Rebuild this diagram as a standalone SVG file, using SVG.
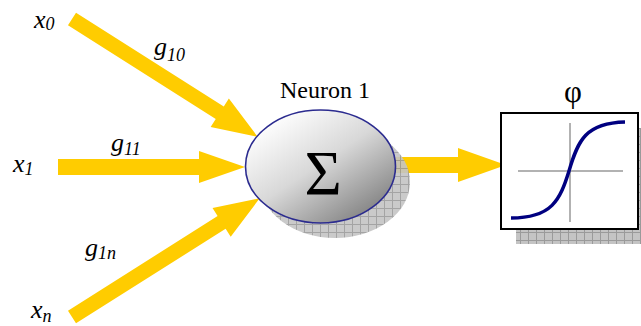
<svg xmlns="http://www.w3.org/2000/svg" width="641" height="326" viewBox="0 0 641 326">
<defs>
<pattern id="chk" width="8" height="8" patternUnits="userSpaceOnUse">
<rect width="8" height="8" fill="#c4c4c4"/>
<path d="M0,0.5 H8 M0.5,0 V8" stroke="#9a9a9a" stroke-width="1"/>
</pattern>
<linearGradient id="sph" x1="0.15" y1="0.1" x2="0.9" y2="0.95">
<stop offset="0" stop-color="#ffffff"/>
<stop offset="0.45" stop-color="#d8d8d8"/>
<stop offset="1" stop-color="#7a7a7a"/>
</linearGradient>
<style>
.arr{fill:#FFCC00}
.lbl{font-style:italic;font-size:26px;fill:#000}
.sub{font-size:18px}
.txt{fill:#000}
</style>
</defs>
<g id="connectors">
<path class="arr" transform="translate(72,19) rotate(32.4)" d="M0,-7.5 H175 V-17 L220,0 L175,17 V7.5 H0Z"/>
<path class="arr" transform="translate(58,167)" d="M0,-8 H141 V-16 L187,0 L141,16 V8 H0Z"/>
<path class="arr" transform="translate(72,317) rotate(-32.3)" d="M0,-7.5 H177 V-17 L222,0 L177,17 V7.5 H0Z"/>
<path class="arr" transform="translate(380,165)" d="M0,-8 H78 V-17 L126,0 L78,17 V8 H0Z"/>
</g>
<g id="neuron">
<ellipse cx="335" cy="182" rx="75" ry="56" fill="url(#chk)" opacity="0.9"/>
<ellipse cx="320.5" cy="166.5" rx="75" ry="56.5" fill="url(#sph)" stroke="#2b2b8f" stroke-width="1.6"/>
<text class="txt" font-family="Liberation Serif, Times New Roman, DejaVu Serif, serif" x="323" y="195" font-size="64" text-anchor="middle">Σ</text>
<text class="txt" font-family="Liberation Serif, Times New Roman, DejaVu Serif, serif" x="325" y="98" font-size="24" text-anchor="middle">Neuron 1</text>
</g>
<g id="activation">
<rect x="516" y="128" width="137" height="116" fill="url(#chk)"/>
<rect x="501" y="113" width="137" height="116" fill="#fff" stroke="#000" stroke-width="2"/>
<path d="M570,123 V222 M518,171 H623" stroke="#999" stroke-width="1.5" fill="none"/>
<path d="M511,218 C552,218 560,200 569,171 C578,140 586,123 625,122" stroke="#000080" stroke-width="3.5" fill="none"/>
<text class="txt" font-family="Liberation Serif, Times New Roman, DejaVu Serif, serif" x="573" y="102" font-size="31" text-anchor="middle">φ</text>
</g>
<g id="labels" font-family="Liberation Serif, Times New Roman, DejaVu Serif, serif">
<text class="lbl" x="34" y="28">x<tspan class="sub" dy="2">0</tspan></text>
<text class="lbl" x="13" y="172">x<tspan class="sub" dy="3">1</tspan></text>
<text class="lbl" x="31" y="318">x<tspan class="sub" dy="4">n</tspan></text>
<text class="lbl" x="154" y="55">g<tspan class="sub" dy="6">10</tspan></text>
<text class="lbl" x="111" y="151">g<tspan class="sub" dy="4">11</tspan></text>
<text class="lbl" x="85" y="256">g<tspan class="sub" dy="3">1n</tspan></text>
</g>
</svg>
